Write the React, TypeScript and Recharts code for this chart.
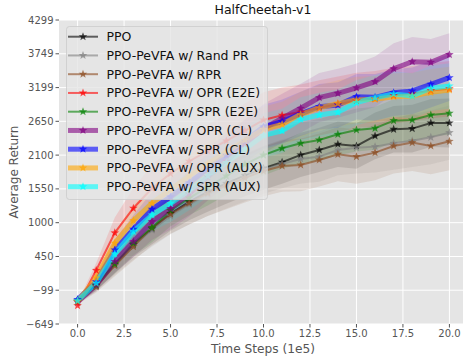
import React from "react";
import { ComposedChart, Line, Area, XAxis, YAxis, CartesianGrid } from "recharts";

const steps = [0, 1, 2, 3, 4, 5, 6, 7, 8, 9, 10, 11, 12, 13, 14, 15, 16, 17, 18, 19, 20];
const xTicks = [0, 2.5, 5, 7.5, 10, 12.5, 15, 17.5, 20];
const yTicks = [-649, -99, 450, 1000, 1550, 2100, 2650, 3199, 3749, 4299];

const ppo = [-270, -25, 320, 640, 900, 1150, 1340, 1500, 1640, 1770, 1886, 1984, 2103, 2184, 2277, 2249, 2412, 2521, 2531, 2623, 2623];
const ppoStd = [40, 80, 150, 200, 250, 280, 300, 320, 330, 340, 350, 350, 360, 360, 370, 370, 380, 380, 390, 390, 400];
const randPr = [-260, -35, 310, 620, 880, 1110, 1300, 1460, 1600, 1730, 1860, 1960, 2037, 2075, 2184, 2221, 2238, 2292, 2335, 2390, 2466];
const randPrStd = [40, 90, 160, 220, 270, 300, 330, 350, 370, 380, 390, 400, 400, 410, 410, 420, 420, 430, 430, 440, 440];
const rpr = [-290, -45, 300, 610, 920, 1140, 1320, 1480, 1610, 1730, 1840, 1924, 1940, 2021, 2114, 2075, 2140, 2249, 2303, 2249, 2325];
const rprStd = [40, 90, 170, 230, 290, 320, 350, 370, 390, 400, 410, 420, 430, 430, 440, 440, 450, 450, 460, 460, 470];
const oprE2e = [-350, 225, 835, 1235, 1560, 1800, 2000, 2170, 2330, 2500, 2672, 2750, 2800, 2870, 2930, 2990, 3020, 3070, 3100, 3150, 3180];
const oprE2eStd = [50, 120, 250, 330, 380, 400, 420, 430, 440, 440, 450, 450, 450, 450, 450, 450, 450, 450, 450, 450, 450];
const sprE2e = [-280, -15, 330, 666, 920, 1200, 1400, 1580, 1760, 1950, 2100, 2211, 2293, 2347, 2439, 2509, 2537, 2661, 2672, 2753, 2781];
const sprE2eStd = [40, 80, 150, 200, 240, 260, 280, 300, 310, 320, 330, 330, 340, 340, 340, 350, 350, 350, 350, 350, 350];
const oprCl = [-290, -13, 367, 692, 1017, 1230, 1470, 1750, 2000, 2280, 2530, 2700, 2862, 3035, 3106, 3193, 3295, 3507, 3621, 3611, 3735];
const oprClStd = [40, 100, 180, 250, 300, 340, 370, 390, 400, 400, 400, 400, 400, 400, 400, 400, 410, 413, 400, 380, 350];
const sprCl = [-250, 41, 557, 894, 1219, 1420, 1650, 1880, 2100, 2330, 2560, 2644, 2770, 2888, 2916, 3051, 3040, 3116, 3144, 3253, 3360];
const sprClStd = [40, 90, 170, 230, 280, 310, 330, 340, 350, 350, 360, 360, 360, 370, 370, 370, 380, 380, 380, 380, 380];
const oprAux = [-280, 100, 666, 1034, 1317, 1540, 1760, 1960, 2150, 2340, 2520, 2600, 2760, 2870, 2940, 2997, 3009, 3051, 3060, 3123, 3160];
const oprAuxStd = [40, 100, 190, 250, 290, 320, 340, 350, 360, 360, 370, 370, 370, 370, 380, 380, 380, 380, 380, 380, 380];
const sprAux = [-270, 15, 492, 855, 1126, 1310, 1522, 1760, 1980, 2200, 2420, 2493, 2683, 2753, 2797, 2954, 3035, 3095, 3062, 3188, 3225];
const sprAuxStd = [40, 90, 170, 230, 270, 300, 320, 340, 350, 350, 360, 360, 360, 360, 370, 370, 370, 370, 370, 370, 370];

type S = { key: string; name: string; color: string; width: number; mean: number[]; std: number[] };
const series: S[] = [
  { key: "ppo", name: "PPO", color: "#000000", width: 2, mean: ppo, std: ppoStd },
  { key: "randPr", name: "PPO-PeVFA w/ Rand PR", color: "#808080", width: 2, mean: randPr, std: randPrStd },
  { key: "rpr", name: "PPO-PeVFA w/ RPR", color: "#8c4a1e", width: 2, mean: rpr, std: rprStd },
  { key: "oprE2e", name: "PPO-PeVFA w/ OPR (E2E)", color: "#ff0000", width: 2, mean: oprE2e, std: oprE2eStd },
  { key: "sprE2e", name: "PPO-PeVFA w/ SPR (E2E)", color: "#008000", width: 2, mean: sprE2e, std: sprE2eStd },
  { key: "oprCl", name: "PPO-PeVFA w/ OPR (CL)", color: "#800080", width: 5, mean: oprCl, std: oprClStd },
  { key: "sprCl", name: "PPO-PeVFA w/ SPR (CL)", color: "#0000ff", width: 5, mean: sprCl, std: sprClStd },
  { key: "oprAux", name: "PPO-PeVFA w/ OPR (AUX)", color: "#ffa500", width: 5, mean: oprAux, std: oprAuxStd },
  { key: "sprAux", name: "PPO-PeVFA w/ SPR (AUX)", color: "#00ffff", width: 5, mean: sprAux, std: sprAuxStd },
];

const data = steps.map((s, i) => {
  const row: any = { step: s };
  series.forEach((se) => {
    row[se.key] = se.mean[i];
    row[se.key + "Band"] = [se.mean[i] - se.std[i], se.mean[i] + se.std[i]];
  });
  return row;
});

function starPath(cx: number, cy: number, r: number) {
  let d = "";
  for (let k = 0; k < 10; k++) {
    const a = (-90 + k * 36) * (Math.PI / 180);
    const rr = k % 2 === 0 ? r : r * 0.42;
    d += (k === 0 ? "M" : "L") + (cx + rr * Math.cos(a)).toFixed(2) + "," + (cy + rr * Math.sin(a)).toFixed(2);
  }
  return d + "Z";
}

const makeDot = (color: string) => (props: any) => {
  const { cx, cy, index } = props;
  if (cx == null || cy == null) return <g key={index} />;
  return <path key={index} d={starPath(cx, cy, 4.5)} fill={color} fillOpacity={0.7} stroke="none" />;
};

const font = "'DejaVu Sans', Verdana, sans-serif";
const fmt = (v: number) => String(v).replace("-", "\u2212");

function LegendBox() {
  const rowH = 18.75;
  return (
    <svg style={{ position: "absolute", left: 66, top: 26 }} width={202} height={174}>
      <rect x={0.5} y={0.5} width={201} height={173} rx={3} fill="#e5e5e5" fillOpacity={0.8} stroke="#cccccc" strokeOpacity={0.8} />
      {series.map((s, i) => {
        const y = 10.7 + rowH * i;
        return (
          <g key={s.key}>
            <line x1={2} x2={32} y1={y} y2={y} stroke={s.color} strokeOpacity={0.6} strokeWidth={s.width} />
            <path d={starPath(17, y, 4.5)} fill={s.color} fillOpacity={0.7} />
            <text x={40.5} y={y} dy="0.36em" fontFamily={font} fontSize={12.5} fill="#111">
              {s.name}
            </text>
          </g>
        );
      })}
    </svg>
  );
}

export default function App() {
  return (
    <div style={{ position: "absolute", left: 0, top: 0, width: 463, height: 364, overflow: "hidden", background: "#fff", fontFamily: font }}>
      <ComposedChart width={470} height={364} data={data} margin={{ top: 20, right: 2, left: 0, bottom: 0 }}>
        <CartesianGrid fill="#e5e5e5" stroke="#ffffff" strokeWidth={1} verticalValues={xTicks} horizontalValues={yTicks} />
        <XAxis
          type="number"
          dataKey="step"
          domain={[-1, 21]}
          ticks={xTicks}
          allowDataOverflow
          tickFormatter={(v: number) => v.toFixed(1)}
          axisLine={false}
          tickLine={{ stroke: "#555555" }}
          tickSize={3.5}
          height={40}
          tick={{ fill: "#555555", fontSize: 10, fontFamily: font }}
        />
        <YAxis
          type="number"
          domain={[-649, 4299]}
          ticks={yTicks}
          allowDataOverflow
          tickFormatter={fmt}
          axisLine={false}
          tickLine={{ stroke: "#555555" }}
          tickSize={3.5}
          width={59}
          tick={{ fill: "#555555", fontSize: 10, fontFamily: font }}
        />
        {series.map((s) => (
          <Area
            key={s.key + "Band"}
            type="linear"
            dataKey={s.key + "Band"}
            fill={s.color}
            fillOpacity={0.12}
            stroke="none"
            isAnimationActive={false}
            dot={false}
            activeDot={false}
          />
        ))}
        {series.map((s) => (
          <Line
            key={s.key}
            type="linear"
            dataKey={s.key}
            stroke={s.color}
            strokeOpacity={0.6}
            strokeWidth={s.width}
            dot={makeDot(s.color)}
            activeDot={false}
            isAnimationActive={false}
          />
        ))}
      </ComposedChart>
      <LegendBox />
      <div style={{ position: "absolute", left: 163, width: 200, top: 2, textAlign: "center", fontSize: 12.5, color: "#111", lineHeight: "16px" }}>
        HalfCheetah-v1
      </div>
      <div style={{ position: "absolute", left: 163, width: 200, top: 341, textAlign: "center", fontSize: 12.2, color: "#555", lineHeight: "16px" }}>
        Time Steps (1e5)
      </div>
      <div
        style={{
          position: "absolute",
          left: 14 - 70,
          width: 140,
          top: 172 - 8,
          textAlign: "center",
          fontSize: 12,
          color: "#555",
          lineHeight: "16px",
          transform: "rotate(-90deg)",
        }}
      >
        Average Return
      </div>
    </div>
  );
}
